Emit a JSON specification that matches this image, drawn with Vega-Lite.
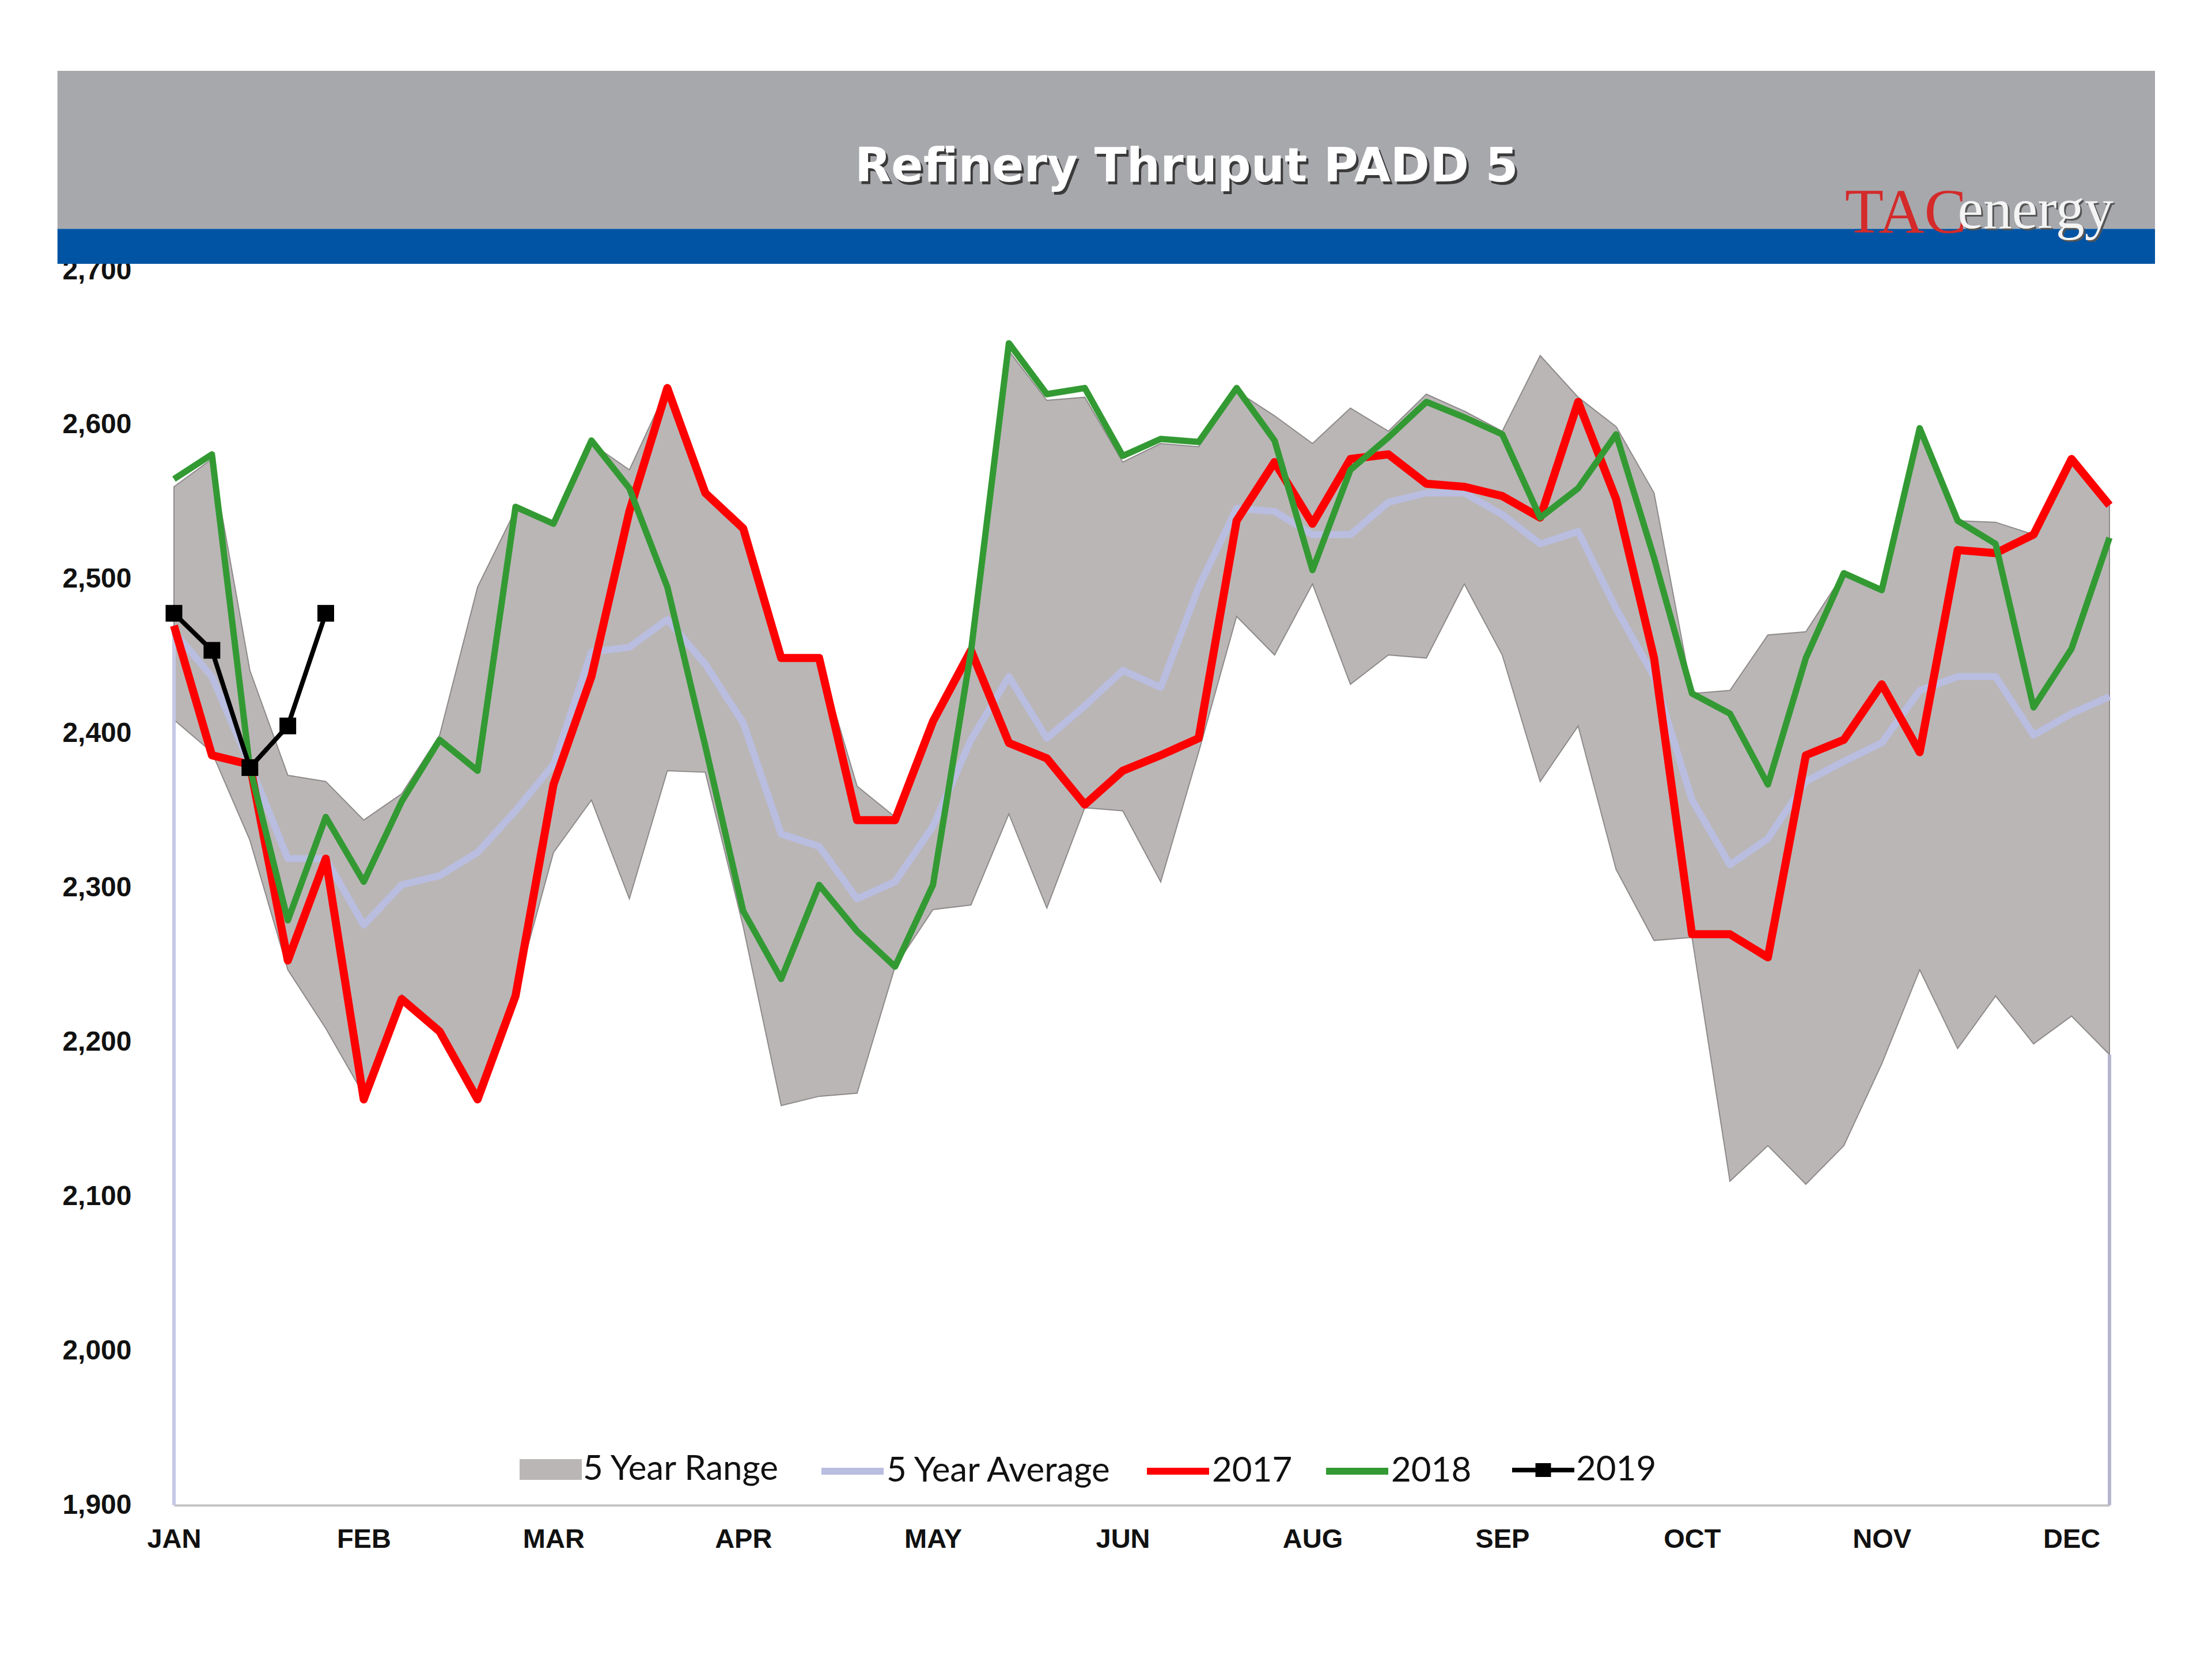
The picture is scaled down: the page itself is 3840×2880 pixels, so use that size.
{
  "$schema": "https://vega.github.io/schema/vega-lite/v6.json",
  "width": 3360,
  "height": 2143,
  "autosize": {"type": "none"},
  "padding": {"left": 302, "top": 470, "right": 178, "bottom": 267},
  "background": "white",
  "config": {
    "view": {"stroke": null},
    "axisX": {"domainColor": "#c4c4c4", "domainWidth": 4, "ticks": false, "grid": false, "labelFont": "Liberation Sans", "labelFontWeight": "bold", "labelFontSize": 47, "labelColor": "#111111", "labelPadding": 36, "labelFlush": false},
    "axisY": {"domain": false, "ticks": false, "grid": false, "labelFont": "Liberation Sans", "labelFontWeight": "bold", "labelFontSize": 48, "labelColor": "#111111", "labelPadding": 74},
    "legend": {"orient": "none", "title": null, "padding": 0, "symbolSize": 2916, "labelOffset": 26, "columnPadding": 34, "labelFont": "Lato", "labelFontSize": 60, "labelColor": "#111111", "labelLimit": 1000, "direction": "horizontal"}
  },
  "datasets": {
    "range": [
      {"week": 0, "low": 2409, "high": 2560, "series": "5 Year Range"},
      {"week": 1, "low": 2388, "high": 2578, "series": "5 Year Range"},
      {"week": 2, "low": 2331, "high": 2441, "series": "5 Year Range"},
      {"week": 3, "low": 2247, "high": 2373, "series": "5 Year Range"},
      {"week": 4, "low": 2209, "high": 2369, "series": "5 Year Range"},
      {"week": 5, "low": 2166, "high": 2344, "series": "5 Year Range"},
      {"week": 6, "low": 2231, "high": 2361, "series": "5 Year Range"},
      {"week": 7, "low": 2210, "high": 2399, "series": "5 Year Range"},
      {"week": 8, "low": 2166, "high": 2495, "series": "5 Year Range"},
      {"week": 9, "low": 2233, "high": 2545, "series": "5 Year Range"},
      {"week": 10, "low": 2323, "high": 2535, "series": "5 Year Range"},
      {"week": 11, "low": 2357, "high": 2588, "series": "5 Year Range"},
      {"week": 12, "low": 2293, "high": 2571, "series": "5 Year Range"},
      {"week": 13, "low": 2376, "high": 2624, "series": "5 Year Range"},
      {"week": 14, "low": 2375, "high": 2556, "series": "5 Year Range"},
      {"week": 15, "low": 2275, "high": 2533, "series": "5 Year Range"},
      {"week": 16, "low": 2159, "high": 2449, "series": "5 Year Range"},
      {"week": 17, "low": 2165, "high": 2449, "series": "5 Year Range"},
      {"week": 18, "low": 2167, "high": 2366, "series": "5 Year Range"},
      {"week": 19, "low": 2249, "high": 2346, "series": "5 Year Range"},
      {"week": 20, "low": 2286, "high": 2408, "series": "5 Year Range"},
      {"week": 21, "low": 2289, "high": 2456, "series": "5 Year Range"},
      {"week": 22, "low": 2348, "high": 2648, "series": "5 Year Range"},
      {"week": 23, "low": 2287, "high": 2616, "series": "5 Year Range"},
      {"week": 24, "low": 2352, "high": 2618, "series": "5 Year Range"},
      {"week": 25, "low": 2350, "high": 2576, "series": "5 Year Range"},
      {"week": 26, "low": 2304, "high": 2588, "series": "5 Year Range"},
      {"week": 27, "low": 2388, "high": 2586, "series": "5 Year Range"},
      {"week": 28, "low": 2476, "high": 2622, "series": "5 Year Range"},
      {"week": 29, "low": 2451, "high": 2606, "series": "5 Year Range"},
      {"week": 30, "low": 2497, "high": 2588, "series": "5 Year Range"},
      {"week": 31, "low": 2432, "high": 2611, "series": "5 Year Range"},
      {"week": 32, "low": 2451, "high": 2596, "series": "5 Year Range"},
      {"week": 33, "low": 2449, "high": 2620, "series": "5 Year Range"},
      {"week": 34, "low": 2497, "high": 2609, "series": "5 Year Range"},
      {"week": 35, "low": 2451, "high": 2596, "series": "5 Year Range"},
      {"week": 36, "low": 2369, "high": 2645, "series": "5 Year Range"},
      {"week": 37, "low": 2405, "high": 2618, "series": "5 Year Range"},
      {"week": 38, "low": 2312, "high": 2599, "series": "5 Year Range"},
      {"week": 39, "low": 2266, "high": 2556, "series": "5 Year Range"},
      {"week": 40, "low": 2268, "high": 2426, "series": "5 Year Range"},
      {"week": 41, "low": 2110, "high": 2428, "series": "5 Year Range"},
      {"week": 42, "low": 2133, "high": 2464, "series": "5 Year Range"},
      {"week": 43, "low": 2108, "high": 2466, "series": "5 Year Range"},
      {"week": 44, "low": 2133, "high": 2504, "series": "5 Year Range"},
      {"week": 45, "low": 2186, "high": 2493, "series": "5 Year Range"},
      {"week": 46, "low": 2247, "high": 2597, "series": "5 Year Range"},
      {"week": 47, "low": 2196, "high": 2538, "series": "5 Year Range"},
      {"week": 48, "low": 2230, "high": 2537, "series": "5 Year Range"},
      {"week": 49, "low": 2199, "high": 2529, "series": "5 Year Range"},
      {"week": 50, "low": 2217, "high": 2578, "series": "5 Year Range"},
      {"week": 51, "low": 2192, "high": 2548, "series": "5 Year Range"}
    ],
    "obs": [
      {"week": 0, "series": "5 Year Average", "value": 2466},
      {"week": 1, "series": "5 Year Average", "value": 2437},
      {"week": 2, "series": "5 Year Average", "value": 2380},
      {"week": 3, "series": "5 Year Average", "value": 2319},
      {"week": 4, "series": "5 Year Average", "value": 2319},
      {"week": 5, "series": "5 Year Average", "value": 2276},
      {"week": 6, "series": "5 Year Average", "value": 2302},
      {"week": 7, "series": "5 Year Average", "value": 2308},
      {"week": 8, "series": "5 Year Average", "value": 2323},
      {"week": 9, "series": "5 Year Average", "value": 2350},
      {"week": 10, "series": "5 Year Average", "value": 2380},
      {"week": 11, "series": "5 Year Average", "value": 2453},
      {"week": 12, "series": "5 Year Average", "value": 2456},
      {"week": 13, "series": "5 Year Average", "value": 2474},
      {"week": 14, "series": "5 Year Average", "value": 2445},
      {"week": 15, "series": "5 Year Average", "value": 2407},
      {"week": 16, "series": "5 Year Average", "value": 2335},
      {"week": 17, "series": "5 Year Average", "value": 2327},
      {"week": 18, "series": "5 Year Average", "value": 2293},
      {"week": 19, "series": "5 Year Average", "value": 2304},
      {"week": 20, "series": "5 Year Average", "value": 2340},
      {"week": 21, "series": "5 Year Average", "value": 2396},
      {"week": 22, "series": "5 Year Average", "value": 2437},
      {"week": 23, "series": "5 Year Average", "value": 2397},
      {"week": 24, "series": "5 Year Average", "value": 2418},
      {"week": 25, "series": "5 Year Average", "value": 2441},
      {"week": 26, "series": "5 Year Average", "value": 2430},
      {"week": 27, "series": "5 Year Average", "value": 2495},
      {"week": 28, "series": "5 Year Average", "value": 2546},
      {"week": 29, "series": "5 Year Average", "value": 2544},
      {"week": 30, "series": "5 Year Average", "value": 2529},
      {"week": 31, "series": "5 Year Average", "value": 2529},
      {"week": 32, "series": "5 Year Average", "value": 2550},
      {"week": 33, "series": "5 Year Average", "value": 2556},
      {"week": 34, "series": "5 Year Average", "value": 2556},
      {"week": 35, "series": "5 Year Average", "value": 2542},
      {"week": 36, "series": "5 Year Average", "value": 2523},
      {"week": 37, "series": "5 Year Average", "value": 2531},
      {"week": 38, "series": "5 Year Average", "value": 2481},
      {"week": 39, "series": "5 Year Average", "value": 2437},
      {"week": 40, "series": "5 Year Average", "value": 2357},
      {"week": 41, "series": "5 Year Average", "value": 2315},
      {"week": 42, "series": "5 Year Average", "value": 2332},
      {"week": 43, "series": "5 Year Average", "value": 2369},
      {"week": 44, "series": "5 Year Average", "value": 2382},
      {"week": 45, "series": "5 Year Average", "value": 2394},
      {"week": 46, "series": "5 Year Average", "value": 2428},
      {"week": 47, "series": "5 Year Average", "value": 2437},
      {"week": 48, "series": "5 Year Average", "value": 2437},
      {"week": 49, "series": "5 Year Average", "value": 2399},
      {"week": 50, "series": "5 Year Average", "value": 2413},
      {"week": 51, "series": "5 Year Average", "value": 2424},
      {"week": 0, "series": "2017", "value": 2470},
      {"week": 1, "series": "2017", "value": 2386},
      {"week": 2, "series": "2017", "value": 2380},
      {"week": 3, "series": "2017", "value": 2253},
      {"week": 4, "series": "2017", "value": 2319},
      {"week": 5, "series": "2017", "value": 2163},
      {"week": 6, "series": "2017", "value": 2228},
      {"week": 7, "series": "2017", "value": 2207},
      {"week": 8, "series": "2017", "value": 2163},
      {"week": 9, "series": "2017", "value": 2230},
      {"week": 10, "series": "2017", "value": 2367},
      {"week": 11, "series": "2017", "value": 2437},
      {"week": 12, "series": "2017", "value": 2544},
      {"week": 13, "series": "2017", "value": 2624},
      {"week": 14, "series": "2017", "value": 2556},
      {"week": 15, "series": "2017", "value": 2533},
      {"week": 16, "series": "2017", "value": 2449},
      {"week": 17, "series": "2017", "value": 2449},
      {"week": 18, "series": "2017", "value": 2344},
      {"week": 19, "series": "2017", "value": 2344},
      {"week": 20, "series": "2017", "value": 2408},
      {"week": 21, "series": "2017", "value": 2454},
      {"week": 22, "series": "2017", "value": 2394},
      {"week": 23, "series": "2017", "value": 2384},
      {"week": 24, "series": "2017", "value": 2354},
      {"week": 25, "series": "2017", "value": 2376},
      {"week": 26, "series": "2017", "value": 2386},
      {"week": 27, "series": "2017", "value": 2397},
      {"week": 28, "series": "2017", "value": 2538},
      {"week": 29, "series": "2017", "value": 2576},
      {"week": 30, "series": "2017", "value": 2536},
      {"week": 31, "series": "2017", "value": 2578},
      {"week": 32, "series": "2017", "value": 2581},
      {"week": 33, "series": "2017", "value": 2562},
      {"week": 34, "series": "2017", "value": 2560},
      {"week": 35, "series": "2017", "value": 2554},
      {"week": 36, "series": "2017", "value": 2540},
      {"week": 37, "series": "2017", "value": 2615},
      {"week": 38, "series": "2017", "value": 2552},
      {"week": 39, "series": "2017", "value": 2449},
      {"week": 40, "series": "2017", "value": 2270},
      {"week": 41, "series": "2017", "value": 2270},
      {"week": 42, "series": "2017", "value": 2255},
      {"week": 43, "series": "2017", "value": 2386},
      {"week": 44, "series": "2017", "value": 2396},
      {"week": 45, "series": "2017", "value": 2432},
      {"week": 46, "series": "2017", "value": 2388},
      {"week": 47, "series": "2017", "value": 2519},
      {"week": 48, "series": "2017", "value": 2517},
      {"week": 49, "series": "2017", "value": 2529},
      {"week": 50, "series": "2017", "value": 2578},
      {"week": 51, "series": "2017", "value": 2548},
      {"week": 0, "series": "2018", "value": 2565},
      {"week": 1, "series": "2018", "value": 2581},
      {"week": 2, "series": "2018", "value": 2378},
      {"week": 3, "series": "2018", "value": 2279},
      {"week": 4, "series": "2018", "value": 2346},
      {"week": 5, "series": "2018", "value": 2304},
      {"week": 6, "series": "2018", "value": 2356},
      {"week": 7, "series": "2018", "value": 2396},
      {"week": 8, "series": "2018", "value": 2376},
      {"week": 9, "series": "2018", "value": 2547},
      {"week": 10, "series": "2018", "value": 2536},
      {"week": 11, "series": "2018", "value": 2590},
      {"week": 12, "series": "2018", "value": 2559},
      {"week": 13, "series": "2018", "value": 2495},
      {"week": 14, "series": "2018", "value": 2392},
      {"week": 15, "series": "2018", "value": 2285},
      {"week": 16, "series": "2018", "value": 2241},
      {"week": 17, "series": "2018", "value": 2302},
      {"week": 18, "series": "2018", "value": 2272},
      {"week": 19, "series": "2018", "value": 2249},
      {"week": 20, "series": "2018", "value": 2302},
      {"week": 21, "series": "2018", "value": 2453},
      {"week": 22, "series": "2018", "value": 2653},
      {"week": 23, "series": "2018", "value": 2620},
      {"week": 24, "series": "2018", "value": 2624},
      {"week": 25, "series": "2018", "value": 2580},
      {"week": 26, "series": "2018", "value": 2591},
      {"week": 27, "series": "2018", "value": 2589},
      {"week": 28, "series": "2018", "value": 2624},
      {"week": 29, "series": "2018", "value": 2590},
      {"week": 30, "series": "2018", "value": 2506},
      {"week": 31, "series": "2018", "value": 2571},
      {"week": 32, "series": "2018", "value": 2592},
      {"week": 33, "series": "2018", "value": 2615},
      {"week": 34, "series": "2018", "value": 2605},
      {"week": 35, "series": "2018", "value": 2594},
      {"week": 36, "series": "2018", "value": 2540},
      {"week": 37, "series": "2018", "value": 2559},
      {"week": 38, "series": "2018", "value": 2594},
      {"week": 39, "series": "2018", "value": 2514},
      {"week": 40, "series": "2018", "value": 2426},
      {"week": 41, "series": "2018", "value": 2413},
      {"week": 42, "series": "2018", "value": 2367},
      {"week": 43, "series": "2018", "value": 2449},
      {"week": 44, "series": "2018", "value": 2504},
      {"week": 45, "series": "2018", "value": 2493},
      {"week": 46, "series": "2018", "value": 2598},
      {"week": 47, "series": "2018", "value": 2538},
      {"week": 48, "series": "2018", "value": 2523},
      {"week": 49, "series": "2018", "value": 2417},
      {"week": 50, "series": "2018", "value": 2455},
      {"week": 51, "series": "2018", "value": 2527},
      {"week": 0, "series": "2019", "value": 2478},
      {"week": 1, "series": "2019", "value": 2454},
      {"week": 2, "series": "2019", "value": 2378},
      {"week": 3, "series": "2019", "value": 2405},
      {"week": 4, "series": "2019", "value": 2478}
    ]
  },
  "layer": [
    {
      "data": {"values": [{}]},
      "mark": {"type": "rect", "color": "#a7a8ac", "clip": false},
      "encoding": {
        "x": {"datum": -3.07, "type": "quantitative", "title": null},
        "x2": {"datum": 52.2},
        "y": {"datum": 2727.2, "type": "quantitative", "title": null},
        "y2": {"datum": 2829.5}
      }
    },
    {
      "data": {"values": [{}]},
      "mark": {"type": "rect", "color": "#0154a4", "clip": false},
      "encoding": {
        "x": {"datum": -3.07, "type": "quantitative", "title": null},
        "x2": {"datum": 52.2},
        "y": {"datum": 2704.5, "type": "quantitative", "title": null},
        "y2": {"datum": 2727.2}
      }
    },
    {
      "data": {"values": [{}]},
      "mark": {"type": "text", "text": "Refinery Thruput PADD 5", "font": "DejaVu Sans", "fontWeight": "bold", "fontSize": 82, "color": "#3a3a3a", "align": "center", "baseline": "alphabetic", "dx": 4, "dy": 5, "clip": false},
      "encoding": {
        "x": {"datum": 26.68, "type": "quantitative", "title": null},
        "y": {"datum": 2757.9, "type": "quantitative", "title": null}
      }
    },
    {
      "data": {"values": [{}]},
      "mark": {"type": "text", "text": "Refinery Thruput PADD 5", "font": "DejaVu Sans", "fontWeight": "bold", "fontSize": 82, "color": "#ffffff", "align": "center", "baseline": "alphabetic", "clip": false},
      "encoding": {
        "x": {"datum": 26.68, "type": "quantitative", "title": null},
        "y": {"datum": 2757.9, "type": "quantitative", "title": null}
      }
    },
    {
      "data": {"values": [{}]},
      "mark": {"type": "text", "text": "TAC", "font": "Liberation Serif", "fontSize": 110, "color": "#d42a2a", "align": "left", "baseline": "alphabetic", "clip": false},
      "encoding": {
        "x": {"datum": 44.03, "type": "quantitative", "title": null},
        "y": {"datum": 2724.5, "type": "quantitative", "title": null}
      }
    },
    {
      "data": {"values": [{}]},
      "mark": {"type": "text", "text": "energy", "font": "Liberation Serif", "fontSize": 100, "color": "#555555", "align": "left", "baseline": "alphabetic", "dx": 3, "dy": 3, "clip": false},
      "encoding": {
        "x": {"datum": 47.0, "type": "quantitative", "title": null},
        "y": {"datum": 2727.5, "type": "quantitative", "title": null}
      }
    },
    {
      "data": {"values": [{}]},
      "mark": {"type": "text", "text": "energy", "font": "Liberation Serif", "fontSize": 100, "color": "#f4f4f4", "align": "left", "baseline": "alphabetic", "clip": false},
      "encoding": {
        "x": {"datum": 47.0, "type": "quantitative", "title": null},
        "y": {"datum": 2727.5, "type": "quantitative", "title": null}
      }
    },
    {
      "data": {"name": "range"},
      "mark": {"type": "area", "stroke": "#8e8a8a", "strokeWidth": 2, "opacity": 1},
      "encoding": {
        "x": {"field": "week", "type": "quantitative", "title": null,
              "scale": {"domain": [0, 51], "nice": false, "zero": false},
              "axis": {"values": [0, 5, 10, 15, 20, 25, 30, 35, 40, 45, 50],
                       "labelExpr": "['JAN','FEB','MAR','APR','MAY','JUN','AUG','SEP','OCT','NOV','DEC'][round(datum.value/5)]"}},
        "y": {"field": "high", "type": "quantitative", "title": null,
              "scale": {"domain": [1900, 2700], "nice": false, "zero": false},
              "axis": {"values": [1900, 2000, 2100, 2200, 2300, 2400, 2500, 2600, 2700], "format": ",d"}},
        "y2": {"field": "low"},
        "fill": {"field": "series", "type": "nominal",
                 "scale": {"domain": ["5 Year Range"], "range": ["#bab6b6"]},
                 "legend": {"legendX": 624, "legendY": 2051, "symbolType": "M-2,-0.67H2V0.67H-2Z", "symbolStrokeWidth": 0}}
      }
    },
    {
      "data": {"name": "obs"},
      "transform": [{"filter": "datum.week === 0 && datum.series === '5 Year Average'"}],
      "mark": {"type": "rule", "color": "#c5c8e6", "strokeWidth": 6},
      "encoding": {
        "x": {"field": "week", "type": "quantitative", "title": null},
        "y": {"field": "value", "type": "quantitative", "title": null},
        "y2": {"datum": 1900}
      }
    },
    {
      "data": {"name": "range"},
      "transform": [{"filter": "datum.week === 51"}],
      "mark": {"type": "rule", "color": "#b4b6cc", "strokeWidth": 6},
      "encoding": {
        "x": {"field": "week", "type": "quantitative", "title": null},
        "y": {"field": "low", "type": "quantitative", "title": null},
        "y2": {"datum": 1900}
      }
    },
    {
      "data": {"name": "obs"},
      "transform": [{"filter": "datum.series === '5 Year Average'"}],
      "mark": {"type": "line", "strokeWidth": 12, "strokeJoin": "round"},
      "encoding": {
        "x": {"field": "week", "type": "quantitative", "title": null},
        "y": {"field": "value", "type": "quantitative", "title": null},
        "stroke": {"field": "series", "type": "nominal",
                   "scale": {"domain": ["5 Year Average", "2017", "2018"], "range": ["#b9bde0", "#ff0000", "#339a33"]},
                   "legend": {"legendX": 1145, "legendY": 2051, "symbolType": "M-2,0H2", "symbolStrokeWidth": 12}}
      }
    },
    {
      "data": {"name": "obs"},
      "transform": [{"filter": "datum.series === '2017'"}],
      "mark": {"type": "line", "strokeWidth": 14, "strokeJoin": "round"},
      "encoding": {
        "x": {"field": "week", "type": "quantitative", "title": null},
        "y": {"field": "value", "type": "quantitative", "title": null},
        "stroke": {"field": "series", "type": "nominal",
                   "legend": {"legendX": 1145, "legendY": 2051, "symbolType": "M-2,0H2", "symbolStrokeWidth": 12}}
      }
    },
    {
      "data": {"name": "obs"},
      "transform": [{"filter": "datum.series === '2018'"}],
      "mark": {"type": "line", "strokeWidth": 11, "strokeJoin": "round"},
      "encoding": {
        "x": {"field": "week", "type": "quantitative", "title": null},
        "y": {"field": "value", "type": "quantitative", "title": null},
        "stroke": {"field": "series", "type": "nominal",
                   "legend": {"legendX": 1145, "legendY": 2051, "symbolType": "M-2,0H2", "symbolStrokeWidth": 12}}
      }
    },
    {
      "data": {"name": "obs"},
      "transform": [{"filter": "datum.series === '2019'"}],
      "mark": {"type": "line", "color": "#000000", "strokeWidth": 8, "strokeJoin": "round"},
      "encoding": {
        "x": {"field": "week", "type": "quantitative", "title": null},
        "y": {"field": "value", "type": "quantitative", "title": null},
        "strokeDash": {"field": "series", "type": "nominal",
                       "scale": {"domain": ["2019"], "range": [[1, 0]]},
                       "legend": {"legendX": 2346, "legendY": 2051, "symbolType": "M-2,0H2M-0.5,-0.3H0.5M-0.5,0H0.5M-0.5,0.3H0.5", "symbolStrokeWidth": 8, "symbolStrokeColor": "#000000", "symbolFillColor": "#000000"}}
      }
    },
    {
      "data": {"name": "obs"},
      "transform": [{"filter": "datum.series === '2019'"}],
      "mark": {"type": "point", "shape": "square", "filled": true, "size": 841, "opacity": 1, "color": "#000000"},
      "encoding": {
        "x": {"field": "week", "type": "quantitative", "title": null},
        "y": {"field": "value", "type": "quantitative", "title": null}
      }
    }
  ]
}
